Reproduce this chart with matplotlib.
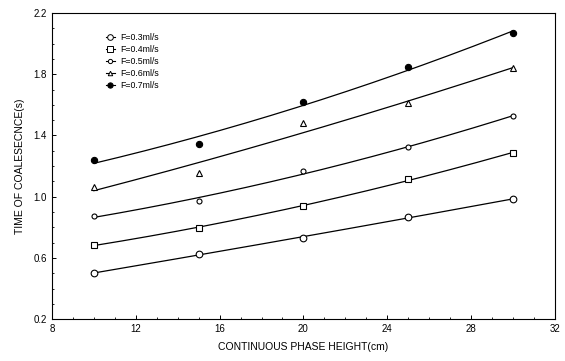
import numpy as np
import matplotlib.pyplot as plt
from matplotlib.lines import Line2D
from matplotlib.ticker import MultipleLocator

plt.rcParams['font.family'] = ['Liberation Sans', 'DejaVu Sans']

# continuous phase height (cm)
height = [10, 15, 20, 25, 30]

# time of coalescence (s) for each flow rate
t_03 = [0.50, 0.625, 0.73, 0.867, 0.984]
t_04 = [0.684, 0.795, 0.94, 1.115, 1.285]
t_05 = [0.873, 0.971, 1.167, 1.324, 1.527]
t_06 = [1.063, 1.154, 1.481, 1.61, 1.84]
t_07 = [1.239, 1.344, 1.618, 1.847, 2.069]

labels = ['F=0.3ml/s', 'F=0.4ml/s', 'F=0.5ml/s', 'F=0.6ml/s', 'F=0.7ml/s']
yticks = [0.2, 0.6, 1.0, 1.4, 1.8, 2.2]
series = [t_03, t_04, t_05, t_06, t_07]
markers = [
    dict(marker='o', ms=4.8, mfc='white'),
    dict(marker='s', ms=4.6, mfc='white'),
    dict(marker='o', ms=3.6, mfc='white'),
    dict(marker='^', ms=3.8, mfc='white'),
    dict(marker='o', ms=4.5, mfc='black'),
]

fig = plt.figure(figsize=(5.65, 3.61), dpi=100)
ax = fig.add_axes([0.092, 0.116, 0.890, 0.848])

xs = np.linspace(10, 30, 200)
handles = []
for y, lab, m in zip(series, labels, markers):
    # second-order fit through each flow rate's points
    coef = np.polyfit(height, y, 2)
    ax.plot(xs, np.polyval(coef, xs), color='black', lw=0.9, zorder=2)
    ax.plot(height, y, ls='none', color='black', mec='black', mew=0.8,
            zorder=3, **m)
    handles.append(Line2D([], [], color='black', lw=0.8, mec='black',
                          mew=0.7, **{**m, 'ms': m['ms'] * 0.85}))

ax.set_xlim(8, 32)
ax.set_ylim(0.2, 2.2)
ax.xaxis.set_major_locator(MultipleLocator(4))
ax.xaxis.set_minor_locator(MultipleLocator(1))
ax.set_yticks(yticks)
ax.set_yticklabels([f'{v:.1f}' for v in yticks])
ax.yaxis.set_minor_locator(MultipleLocator(0.1))
ax.tick_params(which='both', direction='in', labelsize=7, top=False, right=False)
ax.tick_params(which='major', length=3, width=0.7)
ax.tick_params(which='minor', length=1.5, width=0.6)
for s in ax.spines.values():
    s.set_linewidth(0.8)

ax.set_xlabel('CONTINUOUS PHASE HEIGHT(cm)', fontsize=7.5, labelpad=6)
ax.set_ylabel('TIME OF COALESECNCE(s)', fontsize=7.5, labelpad=6)

ax.legend(handles, labels, loc='upper left', bbox_to_anchor=(0.095, 0.955),
          frameon=False, fontsize=6.3, handlelength=1.0, handletextpad=0.6,
          labelspacing=0.35, borderpad=0.2)

fig.savefig('out.png', dpi=100)
